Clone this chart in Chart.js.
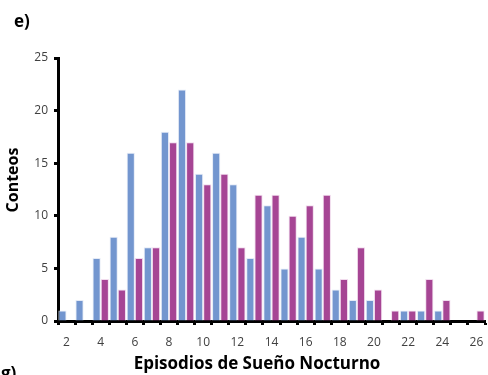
<!DOCTYPE html>
<html>
<head>
<meta charset="utf-8">
<script src="https://cdn.jsdelivr.net/npm/chart.js@4/dist/chart.umd.min.js"></script>
<style>
    html, body { margin: 0; padding: 0; background: #fff; }
    #wrap { position: relative; width: 488px; height: 375px; overflow: hidden; }
    #chart { position: absolute; left: 0; top: 0; }
    .panel { position: absolute; font-family: 'Open Sans', sans-serif; font-weight: 700; font-size: 17px; color: #000; }
    .axis-title {
        position: absolute; transform: translate(-50%, -50%);
        font-family: 'Open Sans', sans-serif; font-weight: 700;
        white-space: nowrap; color: #000;
    }
    #ytitle { left: 12px; top: 180px; font-size: 16px; transform: translate(-50%, -50%) rotate(-90deg); }
    #xtitle { left: 257px; top: 362px; font-size: 17px; }
</style>
</head>
<body>
<div id="wrap">
    <canvas id="chart" width="488" height="375"></canvas>
    <div class="panel" style="left:14px; top:9px;">e)</div>
    <div class="panel" style="left:1px; top:361px;">g)</div>
    <div id="ytitle" class="axis-title">Conteos</div>
    <div id="xtitle" class="axis-title">Episodios de Sueño Nocturno</div>
</div>
<script>
// ===========================
// Data
// ===========================
const episodes = ['2', '3', '4', '5', '6', '7', '8', '9', '10', '11', '12', '13', '14',
    '15', '16', '17', '18', '19', '20', '21', '22', '23', '24', '25', '26'];
const blueCounts = [1, 2, 6, 8, 16, 7, 18, 22, 14, 16, 13, 6, 11, 5, 8, 5, 3, 2, 2, 0, 1, 1, 1, 0, 0];
const purpleCounts = [0, 0, 4, 3, 6, 7, 17, 17, 13, 14, 7, 12, 12, 10, 11, 12, 4, 7, 3, 1, 1, 4, 2, 0, 1];
const yTicks = [0, 5, 10, 15, 20, 25];

const FONT = "'Open Sans', sans-serif";

const ctx = document.getElementById('chart').getContext('2d');

new Chart(ctx, {
    type: 'bar',
    data: {
        labels: episodes,
        datasets: [
            {
                label: 'Serie 1',
                data: blueCounts,
                backgroundColor: '#7396cf',
                borderColor: 'rgba(225, 232, 245, 0.9)',
                borderWidth: 1,
                borderSkipped: 'bottom',
            },
            {
                label: 'Serie 2',
                data: purpleCounts,
                backgroundColor: '#a64594',
                borderColor: 'rgba(240, 215, 235, 0.9)',
                borderWidth: 1,
                borderSkipped: 'bottom',
            },
        ],
    },
    options: {
        responsive: false,
        animation: false,
        layout: { padding: { top: 58, right: 3, bottom: 3, left: 0 } },
        datasets: { bar: { categoryPercentage: 0.96, barPercentage: 1 } },
        plugins: {
            legend: { display: false },
            tooltip: { enabled: false },
        },
        scales: {
            x: {
                grid: {
                    offset: true,
                    drawOnChartArea: false,
                    tickLength: 4,
                    tickWidth: 3,
                    tickColor: '#000',
                },
                border: { color: '#000', width: 3 },
                ticks: {
                    autoSkip: false,
                    maxRotation: 0,
                    padding: 10,
                    color: '#404040',
                    font: { family: FONT, size: 12 },
                    callback: (v, i) => (i % 2 === 0 ? episodes[i] : ''),
                },
                afterFit: (scale) => {
                    scale.height = 51;
                    scale.paddingRight = 0;
                },
            },
            y: {
                min: 0,
                max: 25,
                afterBuildTicks: (scale) => { scale.ticks = yTicks.map(v => ({ value: v })); },
                grid: {
                    drawOnChartArea: false,
                    tickLength: 4,
                    tickWidth: 3,
                    tickColor: '#000',
                },
                border: { color: '#000', width: 3 },
                ticks: {
                    padding: 6,
                    color: '#404040',
                    font: { family: FONT, size: 12 },
                },
                afterFit: (scale) => { scale.width = 58; },
            },
        },
    },
});
</script>
</body>
</html>
